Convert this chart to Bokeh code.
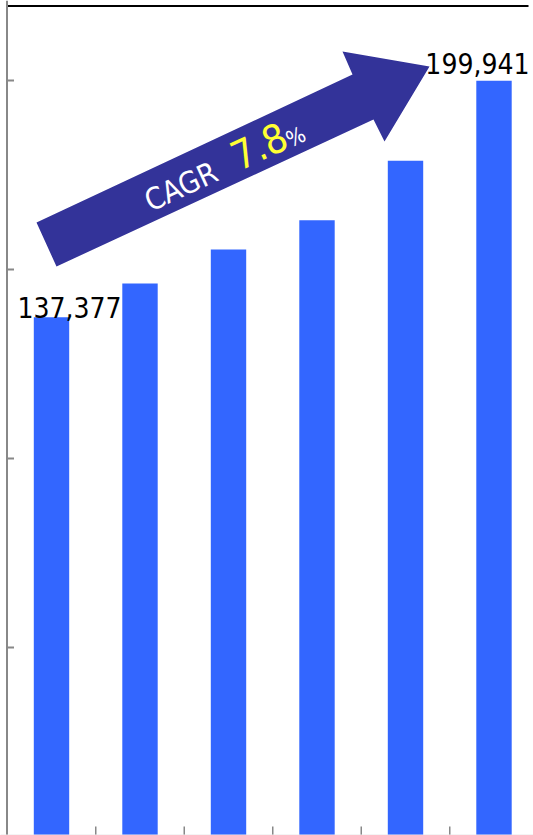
from bokeh.plotting import figure
from bokeh.models import Range1d, Span, Label
from bokeh.embed import file_html
from bokeh.resources import INLINE
import math

# ---- data ----
bar_index = [0, 1, 2, 3, 4, 5]
bar_values = [137377, 146300, 155300, 163000, 178800, 199941]
label_index = [0, 5]
label_texts = ["137,377", "199,941"]
y_ticks = [0, 50000, 100000, 150000, 200000]
x_separators = [0.5, 1.5, 2.5, 3.5, 4.5]
cagr_parts = ["CAGR", "7.8", "%"]

# ---- layout helpers (page pixel -> data) ----
PX_PER_CAT = 88.5
PX_PER_VAL = 189.0 / 50000.0
X0_PX = 51.0      # pixel of category 0 centre
Y0_PX = 836.0     # pixel of value 0

def dx(px):
    return (px - X0_PX) / PX_PER_CAT

def dy(py):
    return (Y0_PX - py) / PX_PER_VAL

W, H = 533, 835

p = figure(width=W, height=H, output_backend="svg",
           toolbar_location=None, min_border=0,
           x_range=Range1d(dx(0), dx(W)),
           y_range=Range1d(dy(H), dy(0)),
           x_axis_location=None, y_axis_location=None)
p.grid.visible = False
p.outline_line_color = None
p.background_fill_color = "white"
p.border_fill_color = "white"

# bars
p.vbar(x=bar_index, top=bar_values, bottom=0, width=0.40,
       fill_color="#3366FF", line_color=None)

# axis lines and ticks
axis_x = dx(6.5)
p.add_layout(Span(location=axis_x, dimension="height",
                  line_color="#888888", line_width=2))
p.segment(x0=[axis_x] * len(y_ticks), y0=y_ticks,
          x1=[axis_x + 7 / PX_PER_CAT] * len(y_ticks), y1=y_ticks,
          line_color="#888888", line_width=2)
p.add_layout(Span(location=dy(834.5), dimension="width",
                  line_color="#e8e8e8", line_width=1))
p.segment(x0=x_separators, y0=[dy(835)] * len(x_separators),
          x1=x_separators, y1=[dy(826)] * len(x_separators),
          line_color="#888888", line_width=1.5)
p.segment(x0=[axis_x], y0=[dy(5.5)], x1=[dx(528)], y1=[dy(5.5)],
          line_color="black", line_width=2)

# value labels
lab_font = "'DejaVu Sans Condensed', Roboto"
p.add_layout(Label(x=label_index[0] - 34 / PX_PER_CAT,
                   y=bar_values[label_index[0]] + 10 / PX_PER_VAL,
                   text=label_texts[0], text_align="left", text_baseline="alphabetic",
                   text_font=lab_font, text_font_size="28px", text_color="black"))
p.add_layout(Label(x=label_index[1] + 35.5 / PX_PER_CAT,
                   y=bar_values[label_index[1]] + 17 / PX_PER_VAL,
                   text=label_texts[1], text_align="right", text_baseline="alphabetic",
                   text_font=lab_font, text_font_size="28px", text_color="black"))

# arrow
arrow_px = [(56, 266), (36, 222), (352, 74), (342, 51), (429, 66), (384, 141), (373, 119)]
p.patch([dx(a) for a, b in arrow_px], [dy(b) for a, b in arrow_px],
        fill_color="#333399", line_color=None)

# CAGR text (anchored at the vertical middle of each piece)
ang_deg = 25
ang = math.radians(ang_deg)
up = (-math.sin(ang), -math.cos(ang))
cagr_base = [(150, 211), (238, 169), (290, 147)]
cagr_size = [30, 40, 22]
cagr_color = ["white", "#FFFF33", "white"]
for t, (bx, by), sz, col in zip(cagr_parts, cagr_base, cagr_size, cagr_color):
    mx = bx + up[0] * 0.33 * sz
    my = by + up[1] * 0.33 * sz
    p.add_layout(Label(x=dx(mx), y=dy(my), text=t, angle=ang,
                       text_font=lab_font, text_font_size=f"{sz}px", text_color=col,
                       text_align="left", text_baseline="middle"))

open("out.html", "w").write(file_html(p, INLINE))
